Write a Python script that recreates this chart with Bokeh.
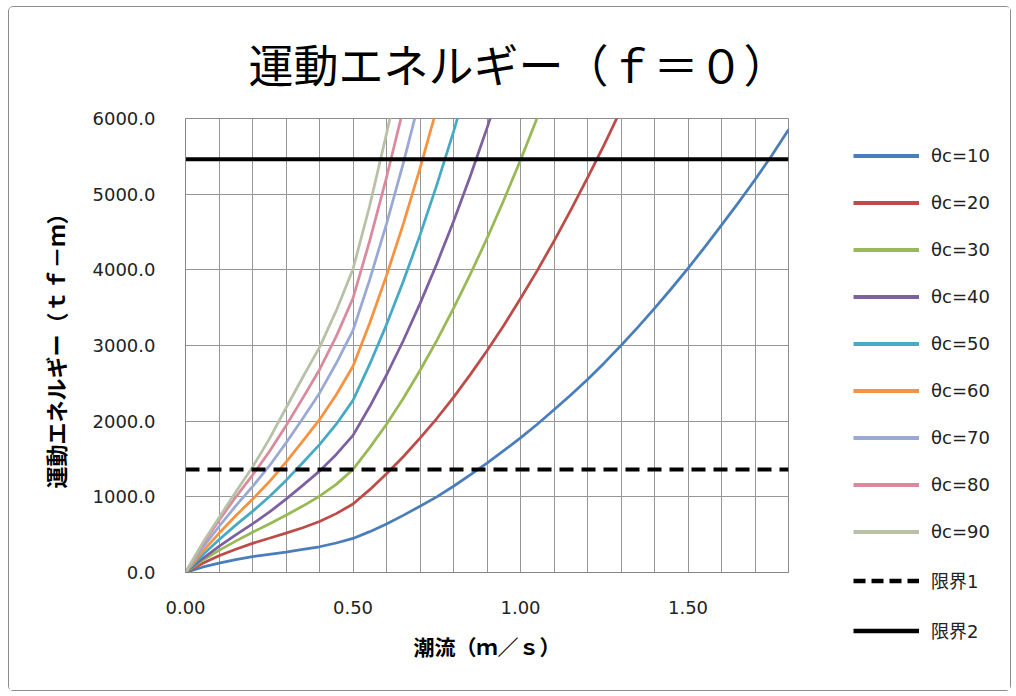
from bokeh.plotting import figure
from bokeh.layouts import row
from bokeh.models import Range1d, FixedTicker, NumeralTickFormatter, Legend, LegendItem
from bokeh.embed import file_html
from bokeh.resources import INLINE

# Tidal current speed (m/s), sampled every 0.05
speeds = [0.00, 0.05, 0.10, 0.15, 0.20, 0.25, 0.30, 0.35, 0.40, 0.45,
          0.50, 0.55, 0.60, 0.65, 0.70, 0.75, 0.80, 0.85, 0.90, 0.95,
          1.00, 1.05, 1.10, 1.15, 1.20, 1.25, 1.30, 1.35, 1.40, 1.45,
          1.50, 1.55, 1.60, 1.65, 1.70, 1.75, 1.80]

# Kinetic energy (tf-m) for each current angle θc
theta10 = [0, 70, 125, 170, 210, 240, 270, 305, 340, 390, 450, 540, 640, 755, 875,
           1000, 1140, 1290, 1445, 1610, 1780, 1960, 2150, 2345, 2550, 2770, 3000,
           3240, 3490, 3750, 4020, 4300, 4590, 4885, 5190, 5510, 5850]
theta20 = [0, 118, 222, 308, 385, 452, 520, 592, 673, 778, 905, 1095, 1305, 1530,
           1775, 2035, 2315, 2615, 2930, 3265, 3620, 3990, 4380, 4790, 5215, 5655, 6120]
theta30 = [0, 157, 293, 415, 531, 640, 756, 878, 1008, 1165, 1362, 1650, 1960, 2300,
           2670, 3065, 3490, 3940, 4415, 4920, 5450, 6010, 6595]
theta40 = [0, 181, 344, 498, 643, 797, 969, 1151, 1340, 1560, 1812, 2193, 2610, 3063,
           3553, 4078, 4640, 5238, 5873, 6543]
theta50 = [0, 228, 432, 626, 808, 1001, 1217, 1450, 1690, 1960, 2275, 2753, 3276, 3845,
           4459, 5119, 5824, 6575]
theta60 = [0, 273, 518, 749, 967, 1199, 1458, 1735, 2020, 2350, 2725, 3297, 3924, 4605,
           5341, 6131]
theta70 = [0, 320, 608, 880, 1136, 1408, 1712, 2035, 2370, 2765, 3200, 3872, 4608, 5408,
           6272]
theta80 = [0, 363, 689, 997, 1287, 1595, 1939, 2305, 2680, 3120, 3625, 4386, 5220, 6126]
theta90 = [0, 382, 725, 1063, 1393, 1763, 2174, 2580, 2975, 3460, 4010, 4850, 5796, 6802]

series_names = ["θc=10", "θc=20", "θc=30", "θc=40", "θc=50",
                "θc=60", "θc=70", "θc=80", "θc=90"]
series_values = [theta10, theta20, theta30, theta40, theta50,
                 theta60, theta70, theta80, theta90]
series_colors = ["#4a7ebb", "#be4b48", "#98b954", "#7d60a0", "#46aac5",
                 "#f69240", "#9aa8d5", "#d98a9c", "#b7c1a6"]

# Allowable energy limits (tf-m)
limit_names = ["限界1", "限界2"]
limit_values = [1360, 5460]

x_tick_labels = [0.0, 0.5, 1.0, 1.5]
y_ticks = [0, 1000, 2000, 3000, 4000, 5000, 6000]
x_grid_ticks = [round(0.1 * i, 1) for i in range(19)]

CURVE_W = 2.75
LIMIT_W = 4
LIMIT_DASH = "14 8"

# ---- main chart -------------------------------------------------------------
p = figure(width=780, height=683,
           x_range=Range1d(0, 1.8), y_range=Range1d(0, 6000),
           output_backend="svg", toolbar_location=None,
           min_border_left=176, min_border_right=1,
           min_border_top=111, min_border_bottom=118,
           title="運動エネルギー（ｆ＝０）")
p.frame_align = False

p.background_fill_color = "white"
p.border_fill_color = "white"
p.outline_line_color = "#8c8c8c"

p.title.align = "left"
p.title.vertical_align = "top"
p.title.offset = 63
p.title.standoff = 42
p.title.text_font = "Noto Sans CJK JP"
p.title.text_font_size = "45px"
p.title.text_font_style = "normal"
p.title.text_color = "black"

p.xaxis.ticker = FixedTicker(ticks=x_tick_labels)
p.xaxis.formatter = NumeralTickFormatter(format="0.00")
p.yaxis.ticker = FixedTicker(ticks=y_ticks)
p.yaxis.formatter = NumeralTickFormatter(format="0.0")
for ax in (p.xaxis, p.yaxis):
    ax.axis_line_color = "#868686"
    ax.major_tick_line_color = None
    ax.minor_tick_line_color = None
    ax.major_label_text_font = "DejaVu Sans"
    ax.major_label_text_font_size = "18px"
    ax.major_label_text_color = "#222222"
    ax.axis_label_text_font = "Noto Sans CJK JP"
    ax.axis_label_text_font_style = "bold"
    ax.axis_label_text_color = "black"
p.xaxis.major_label_standoff = 22
p.yaxis.major_label_standoff = 24
p.xaxis.axis_label = "潮流（ｍ／ｓ）"
p.yaxis.axis_label = "運動エネルギー（ｔｆ－ｍ）"
p.xaxis.axis_label_text_font_size = "21px"
p.yaxis.axis_label_text_font_size = "22px"
p.xaxis.axis_label_standoff = 14
p.yaxis.axis_label_standoff = 19

p.xgrid.ticker = FixedTicker(ticks=x_grid_ticks)
p.ygrid.ticker = FixedTicker(ticks=y_ticks)
for g in (p.xgrid, p.ygrid):
    g.grid_line_color = "#969696"
    g.grid_line_width = 1

for vals, col in zip(series_values, series_colors):
    p.line(speeds[:len(vals)], vals, line_color=col, line_width=CURVE_W,
           line_join="round", line_cap="round")

p.line([0, 1.8], [limit_values[0]] * 2, line_color="black", line_width=LIMIT_W,
       line_dash=LIMIT_DASH)
p.line([0, 1.8], [limit_values[1]] * 2, line_color="black", line_width=LIMIT_W)

# ---- legend panel -------------------------------------------------------------
# Sample lines sit outside this panel's ranges, so only their legend swatches show.
lf = figure(width=221, height=683, x_range=Range1d(0, 1), y_range=Range1d(0, 1),
            output_backend="svg", toolbar_location=None,
            x_axis_location=None, y_axis_location=None,
            min_border=0)
lf.frame_align = False
lf.grid.visible = False
lf.outline_line_color = None
lf.background_fill_color = "white"
lf.border_fill_color = "white"

swatch_x = [-2, -1]
swatch_y = [-1, -1]
items = []
for name, col in zip(series_names, series_colors):
    r = lf.line(swatch_x, swatch_y, line_color=col, line_width=4)
    items.append(LegendItem(label=name, renderers=[r]))
r1 = lf.line(swatch_x, swatch_y, line_color="black", line_width=LIMIT_W + 0.5,
             line_dash="12 6")
r2 = lf.line(swatch_x, swatch_y, line_color="black", line_width=LIMIT_W + 0.5)
items.append(LegendItem(label=limit_names[0], renderers=[r1]))
items.append(LegendItem(label=limit_names[1], renderers=[r2]))

legend = Legend(items=items, location=(64, 47))
legend.border_line_color = None
legend.background_fill_alpha = 0
legend.padding = 0
legend.margin = 0
legend.spacing = 24
legend.glyph_width = 66
legend.glyph_height = 23
legend.label_height = 23
legend.label_standoff = 12
legend.label_text_font = "DejaVu Sans, Noto Sans CJK JP"
legend.label_text_font_size = "18px"
legend.label_text_color = "#222222"
lf.add_layout(legend, "center")

layout = row(p, lf, styles={"margin-left": "8px", "margin-top": "6px",
                            "border": "1px solid #8c8c8c", "border-radius": "5px"})

open("out.html", "w").write(file_html(layout, INLINE))
